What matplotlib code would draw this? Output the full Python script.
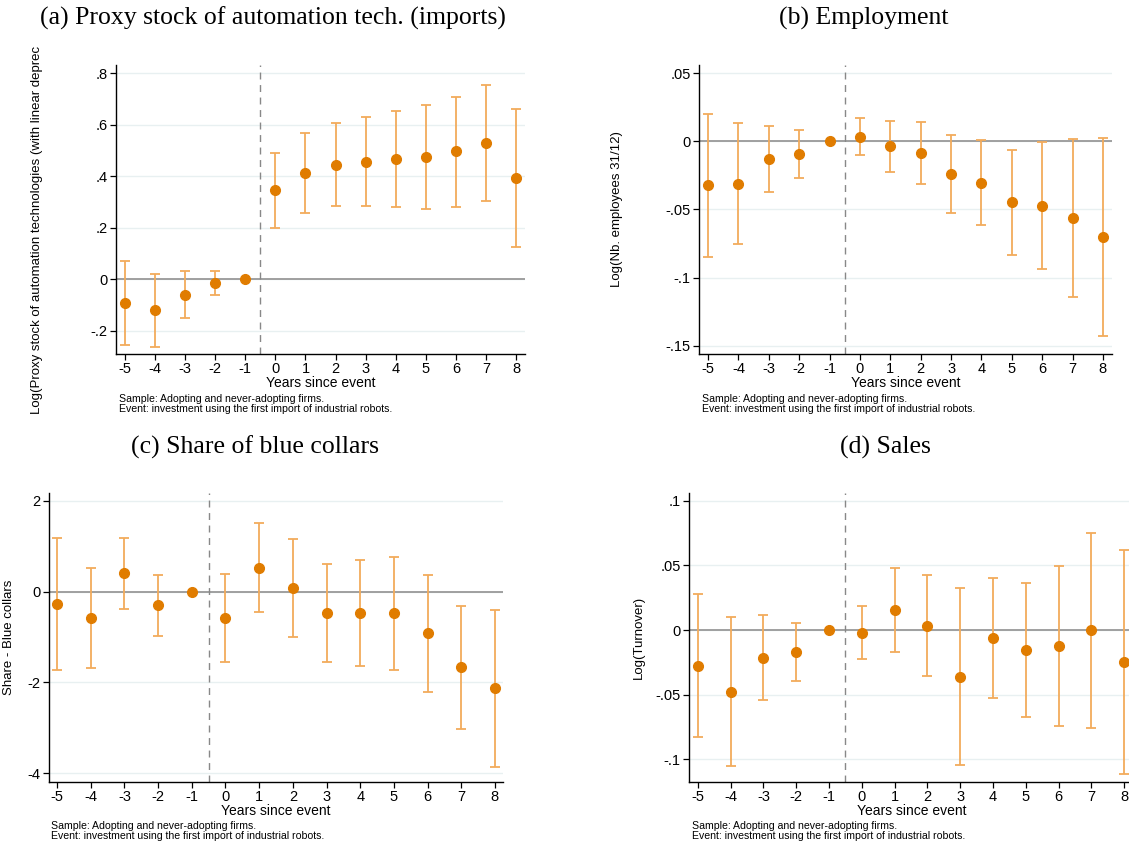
"""
Event-study plots: automation adoption (four panels, Stata-like style).
"""
import numpy as np
import matplotlib
matplotlib.use("Agg")
import matplotlib.pyplot as plt
from matplotlib.transforms import Bbox, TransformedBbox

plt.rcParams["font.family"] = ["Liberation Sans", "DejaVu Sans"]
plt.rcParams["axes.unicode_minus"] = False

# ── Data ──────────────────────────────────────────────────────────────────────

years = [-5, -4, -3, -2, -1, 0, 1, 2, 3, 4, 5, 6, 7, 8]

# (a) Proxy stock of automation tech. (imports)
stock_est = [-0.093, -0.119, -0.060, -0.016, 0.0, 0.346, 0.414, 0.446, 0.458, 0.468, 0.475, 0.497, 0.529, 0.395]
stock_lo  = [-0.255, -0.261, -0.152, -0.062, 0.0, 0.201, 0.257, 0.285, 0.287, 0.283, 0.272, 0.283, 0.303, 0.127]
stock_hi  = [0.071, 0.022, 0.032, 0.032, 0.0, 0.491, 0.569, 0.608, 0.629, 0.653, 0.676, 0.709, 0.757, 0.663]

# (b) Employment
emp_est = [-0.0323, -0.0310, -0.0127, -0.0093, 0.0, 0.0034, -0.0037, -0.0086, -0.0237, -0.0306, -0.0447, -0.0472, -0.0565, -0.0704]
emp_lo  = [-0.0846, -0.0756, -0.0369, -0.0271, 0.0, -0.0103, -0.0227, -0.0310, -0.0523, -0.0616, -0.0834, -0.0934, -0.1144, -0.1428]
emp_hi  = [0.0200, 0.0134, 0.0112, 0.0086, 0.0, 0.0169, 0.0152, 0.0139, 0.0049, 0.0007, -0.0061, -0.0005, 0.0015, 0.0024]

# (c) Share of blue collars
blue_est = [-0.27, -0.57, 0.40, -0.30, 0.0, -0.58, 0.53, 0.07, -0.48, -0.48, -0.48, -0.92, -1.67, -2.13]
blue_lo  = [-1.73, -1.68, -0.39, -0.98, 0.0, -1.55, -0.45, -1.01, -1.56, -1.64, -1.72, -2.22, -3.03, -3.85]
blue_hi  = [1.18, 0.53, 1.18, 0.37, 0.0, 0.38, 1.50, 1.15, 0.60, 0.70, 0.76, 0.37, -0.32, -0.41]

# (d) Sales
sales_est = [-0.0278, -0.0477, -0.0214, -0.0173, 0.0, -0.0021, 0.0155, 0.0034, -0.0363, -0.0059, -0.0155, -0.0124, -0.0003, -0.0245]
sales_lo  = [-0.0830, -0.1050, -0.0541, -0.0397, 0.0, -0.0224, -0.0168, -0.0356, -0.1044, -0.0523, -0.0670, -0.0740, -0.0755, -0.1110]
sales_hi  = [0.0276, 0.0098, 0.0116, 0.0054, 0.0, 0.0186, 0.0477, 0.0425, 0.0325, 0.0405, 0.0363, 0.0492, 0.0750, 0.0621]

NOTE = ("Sample: Adopting and never-adopting firms.\n"
        "Event: investment using the first import of industrial robots.")

# ── Style ─────────────────────────────────────────────────────────────────────

W, H = 1129, 846
DOT = "#e07c00"
BAR = "#f2ab5c"
GRID = "#e8f0f1"


def px_box(left, top, right, bottom):
    """Pixel box (from top-left) -> figure-fraction rect."""
    return [left / W, 1 - bottom / H, (right - left) / W, (bottom - top) / H]


def event_plot(fig, box, est, lo, hi, yticks, yticklabels, ylim, xlim, ylabel):
    ax = fig.add_axes(px_box(*box))
    est = np.array(est)
    yerr = [est - np.array(lo), np.array(hi) - est]
    ax.axhline(0, color="#999999", lw=1.3, zorder=1)
    ax.axvline(-0.5, color="#888888", lw=1.0, ls=(0, (5, 4)), zorder=1)
    ax.errorbar(years, est, yerr=yerr, fmt="none", ecolor=BAR, elinewidth=1.3,
                capsize=3.5, capthick=1.3, zorder=2)
    ax.plot(years, est, "o", color=DOT, ms=7, zorder=3)
    ax.set_yticks(yticks)
    ax.set_yticklabels(yticklabels)
    ax.set_xticks(years)
    ax.set_ylim(*ylim)
    ax.set_xlim(*xlim)
    ax.grid(axis="y", color=GRID, lw=1.0, zorder=0)
    ax.set_axisbelow(True)
    for s in ("top", "right"):
        ax.spines[s].set_visible(False)
    for s in ("left", "bottom"):
        ax.spines[s].set_linewidth(1.0)
    ax.tick_params(labelsize=10.5, length=4, width=0.9, pad=2)
    ax.set_xlabel("Years since event", fontsize=10, labelpad=0)
    if ylabel:
        ax.set_ylabel(ylabel, fontsize=9.5)
    return ax


fig = plt.figure(figsize=(W / 100, H / 100), dpi=100)

# (a)
ax_a = event_plot(fig, (116, 65, 525, 354), stock_est, stock_lo, stock_hi,
                  [-0.2, 0, 0.2, 0.4, 0.6, 0.8], ["-.2", "0", ".2", ".4", ".6", ".8"],
                  (-0.29, 0.833), (-5.3, 8.3), None)
lab = fig.text(37 / W, 1 - 414 / H,
               "Log(Proxy stock of automation technologies (with linear depreciation))",
               rotation=90, ha="center", va="bottom", fontsize=9.5)
lab.set_clip_box(TransformedBbox(Bbox([[0, 0], [1, 1 - 47 / H]]), fig.transFigure))
lab.set_clip_on(True)

# (b)
ax_b = event_plot(fig, (699, 65, 1112, 354), emp_est, emp_lo, emp_hi,
                  [-0.15, -0.1, -0.05, 0, 0.05], ["-.15", "-.1", "-.05", "0", ".05"],
                  (-0.156, 0.056), (-5.3, 8.3), "Log(Nb. employees 31/12)")
ax_b.yaxis.set_label_coords((623 - 699) / 413, 0.5)

# (c)
ax_c = event_plot(fig, (49, 493, 503, 782), blue_est, blue_lo, blue_hi,
                  [-4, -2, 0, 2], ["-4", "-2", "0", "2"],
                  (-4.19, 2.17), (-5.24, 8.24), "Share - Blue collars")
ax_c.yaxis.set_label_coords((15 - 49) / 454, 0.5)

# (d)
ax_d = event_plot(fig, (689, 493, 1134, 782), sales_est, sales_lo, sales_hi,
                  [-0.1, -0.05, 0, 0.05, 0.1], ["-.1", "-.05", "0", ".05", ".1"],
                  (-0.1175, 0.106), (-5.27, 8.3), "Log(Turnover)")
ax_d.yaxis.set_label_coords((645 - 689) / 445, 0.5)

# Titles
title_kw = dict(ha="center", va="center", fontsize=18.5, family="Liberation Serif")
fig.text(273 / W, 1 - 18 / H, "(a) Proxy stock of automation tech. (imports)", **title_kw)
fig.text(864 / W, 1 - 18 / H, "(b) Employment", **title_kw)
fig.text(255 / W, 1 - 447 / H, "(c) Share of blue collars", **title_kw)
fig.text(885 / W, 1 - 447 / H, "(d) Sales", **title_kw)

# Notes
note_kw = dict(ha="left", va="top", fontsize=7.6, linespacing=1.0)
fig.text(119 / W, 1 - 394 / H, NOTE, **note_kw)
fig.text(702 / W, 1 - 394 / H, NOTE, **note_kw)
fig.text(51 / W, 1 - 821 / H, NOTE, **note_kw)
fig.text(692 / W, 1 - 821 / H, NOTE, **note_kw)

fig.savefig("out.png", dpi=100)
